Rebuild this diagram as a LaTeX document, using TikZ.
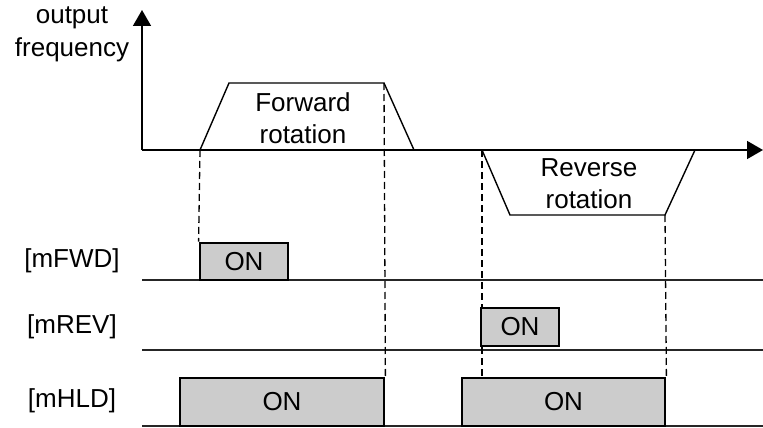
\documentclass[tikz,border=0pt]{standalone}
\usepackage{fontspec}
\setmainfont{Liberation Sans}
\usetikzlibrary{arrows.meta}
\definecolor{onGray}{RGB}{204,204,204}
\tikzset{
axis/.style={-{Triangle[length=16pt,width=18pt]},line width=1.6pt},
wave/.style={line width=1.4pt},
guide/.style={line width=1.3pt,dash pattern=on 7pt off 4pt},
sigline/.style={line width=1.4pt,draw=black!85},
onbox/.style={rectangle,draw=black,line width=2.8pt,fill=onGray,inner sep=0pt,font=\fontsize{26}{30}\selectfont},
siglabel/.style={font=\fontsize{26}{32}\selectfont,align=center}
}
\begin{document}
\begin{tikzpicture}[x=1pt,y=-1pt]
\useasboundingbox (0,0) rectangle (763,428);
% axes
\coordinate (o) at (142,150);
\coordinate (ytop) at (142,10);
\coordinate (xend) at (763,150);
\draw[axis] (o) -- (ytop);
\draw[axis] (o) -- (xend);
\node[siglabel,font=\fontsize{26}{33}\selectfont] (ylab) at (72,34) {output\\frequency};
% frequency profile
\coordinate (fw0) at (200,150); \coordinate (fw1) at (229,83);
\coordinate (fw2) at (384,83);  \coordinate (fw3) at (414,150);
\coordinate (rv0) at (482,150); \coordinate (rv1) at (510,215);
\coordinate (rv2) at (665,215); \coordinate (rv3) at (695,150);
\draw[wave] (fw0) -- (fw1) -- (fw2) -- (fw3);
\draw[wave] (rv0) -- (rv1) -- (rv2) -- (rv3);
\node[siglabel] (fwlab) at (303,118) {Forward\\rotation};
\node[siglabel] (rvlab) at (589,184) {Reverse\\rotation};
% signal rows
\node[siglabel] (fwd) at (72,261) {[mFWD]};
\node[siglabel] (rev) at (72,327) {[mREV]};
\node[siglabel] (hld) at (72,401) {[mHLD]};
\coordinate (l1) at (142,280); \coordinate (r1) at (763,280);
\coordinate (l2) at (142,350); \coordinate (r2) at (763,350);
\coordinate (l3) at (142,426); \coordinate (r3) at (763,426);
\draw[sigline] (l1) -- (r1);
\draw[sigline] (l2) -- (r2);
\draw[sigline] (l3) -- (r3);
\node[onbox,minimum width=88pt,minimum height=37pt] (fwdon) at (244,261.5) {ON};
\node[onbox,minimum width=78pt,minimum height=38pt] (revon) at (520,327) {ON};
\node[onbox,minimum width=204pt,minimum height=48pt] (hldon1) at (282,402) {ON};
\node[onbox,minimum width=203pt,minimum height=48pt] (hldon2) at (563.5,402) {ON};
% timing guides
\draw[guide] (fw0) -- (fwdon.north west);
\draw[guide] (fw2) -- (hldon1.north east);
\draw[guide] (rv0) -- (rv0 |- revon.north);
\draw[guide] (rv0 |- revon.south) -- (rv0 |- hldon2.north);
\draw[guide] (rv2) -- (hldon2.north east);
\end{tikzpicture}
\end{document}
